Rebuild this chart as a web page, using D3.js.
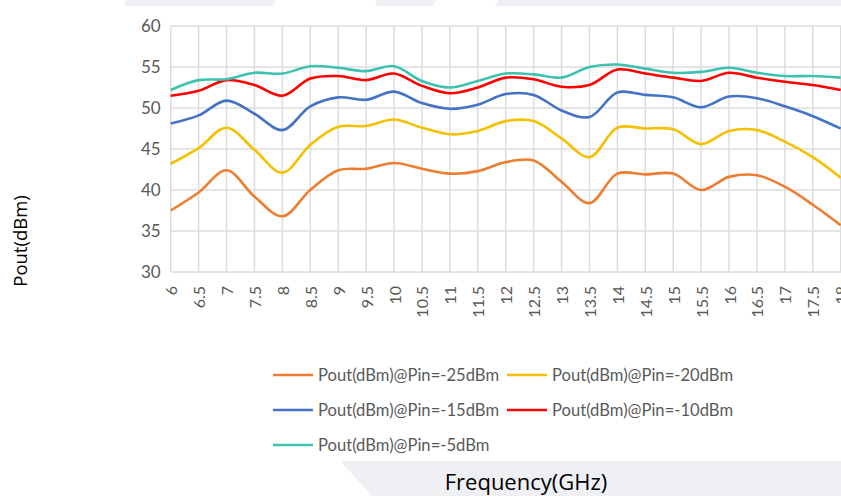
<!DOCTYPE html>
<html>
<head>
<meta charset="utf-8">
<script src="https://cdn.jsdelivr.net/npm/d3@7"></script>
<style>
  body { margin: 0; background: #fff; }
  svg { display: block; }
</style>
</head>
<body>
<div id="chart"></div>
<script>
// frequency categories (GHz)
const freqs = ["6", "6.5", "7", "7.5", "8", "8.5", "9", "9.5", "10", "10.5", "11", "11.5",
  "12", "12.5", "13", "13.5", "14", "14.5", "15", "15.5", "16", "16.5", "17", "17.5", "18"];

const pin25 = [37.5, 39.7, 42.4, 39.2, 36.8, 40.0, 42.4, 42.6, 43.3, 42.6, 42.0, 42.3,
  43.4, 43.6, 41.0, 38.4, 42.0, 41.9, 42.0, 40.0, 41.6, 41.8, 40.4, 38.2, 35.7];
const pin20 = [43.2, 45.1, 47.6, 44.9, 42.1, 45.5, 47.7, 47.8, 48.6, 47.6, 46.8, 47.2,
  48.4, 48.4, 46.3, 44.0, 47.6, 47.5, 47.4, 45.6, 47.2, 47.3, 45.9, 44.0, 41.5];
const pin15 = [48.1, 49.1, 50.9, 49.3, 47.3, 50.2, 51.3, 51.0, 52.0, 50.6, 49.9, 50.4,
  51.7, 51.6, 49.7, 48.9, 51.9, 51.6, 51.3, 50.1, 51.4, 51.2, 50.2, 49.0, 47.5];
const pin10 = [51.5, 52.1, 53.4, 52.8, 51.5, 53.6, 53.9, 53.4, 54.2, 52.7, 51.8, 52.5,
  53.7, 53.5, 52.6, 52.8, 54.7, 54.2, 53.7, 53.3, 54.3, 53.7, 53.2, 52.8, 52.2];
const pin5 = [52.2, 53.4, 53.5, 54.3, 54.2, 55.1, 54.9, 54.5, 55.1, 53.3, 52.5, 53.3,
  54.2, 54.1, 53.7, 55.0, 55.3, 54.8, 54.3, 54.4, 54.9, 54.3, 53.9, 53.9, 53.7];

const seriesNames = ["Pout(dBm)@Pin=-25dBm", "Pout(dBm)@Pin=-20dBm", "Pout(dBm)@Pin=-15dBm",
  "Pout(dBm)@Pin=-10dBm", "Pout(dBm)@Pin=-5dBm"];
const seriesColors = ["#ed7d31", "#f5c000", "#4472c4", "#ff0000", "#3cc2ae"];
const yTicks = [30, 35, 40, 45, 50, 55, 60];

const series = [pin25, pin20, pin15, pin10, pin5].map((vals, i) => ({
  name: seriesNames[i], color: seriesColors[i],
  values: vals.map((v, j) => ({ f: freqs[j], v: v }))
}));

var width = 841, height = 496;
var margin = { top: 26, left: 170.7, bottom: 272 };

var svg = d3.select("#chart").append("svg")
  .attr("width", width)
  .attr("height", height);

// faint background bands
const bg = "#eef0f4";
svg.append("polygon").attr("points", "125,0 276,0 272,6 125,6").attr("fill", bg);
svg.append("polygon").attr("points", "377,0 436,0 433,6 375,6").attr("fill", bg);
svg.append("polygon").attr("points", "498,0 841,0 841,6 495,6").attr("fill", bg);
svg.append("polygon").attr("points", "340,461 841,461 841,496 372,496").attr("fill", bg);

var x = d3.scalePoint()
  .domain(freqs)
  .range([margin.left, 840.7]);

var y = d3.scaleLinear()
  .domain([30, 60])
  .range([margin.bottom, margin.top]);

// grid
svg.append("g")
  .selectAll("line.h")
  .data(yTicks)
  .enter().append("line")
  .attr("x1", margin.left).attr("x2", width)
  .attr("y1", d => y(d)).attr("y2", d => y(d))
  .attr("stroke", "#dcdcdc").attr("stroke-width", 1.5);

svg.append("g")
  .selectAll("line.v")
  .data(freqs)
  .enter().append("line")
  .attr("x1", d => x(d)).attr("x2", d => x(d))
  .attr("y1", y(30)).attr("y2", y(60))
  .attr("stroke", "#dcdcdc").attr("stroke-width", 1.5);

// y axis labels
var yAxis = svg.append("g")
  .attr("transform", "translate(" + (margin.left - 10) + ",0)")
  .call(d3.axisLeft(y).tickValues(yTicks).tickSize(0).tickPadding(0));
yAxis.select(".domain").remove();
yAxis.selectAll("text")
  .attr("font-family", "Lato, 'Liberation Sans', sans-serif")
  .attr("font-size", 17)
  .attr("fill", "#595959");

// x axis labels (rotated)
var xAxis = svg.append("g")
  .attr("transform", "translate(0," + y(30) + ")")
  .call(d3.axisBottom(x).tickSize(0).tickPadding(0));
xAxis.select(".domain").remove();
xAxis.selectAll("text")
  .attr("font-family", "Lato, 'Liberation Sans', sans-serif")
  .attr("font-size", 16)
  .attr("fill", "#595959")
  .attr("text-anchor", "end")
  .attr("transform", "translate(6,14) rotate(-90)")
  .attr("dy", "0");

// lines
var line = d3.line()
  .x(d => x(d.f))
  .y(d => y(d.v))
  .curve(d3.curveCatmullRom);

svg.append("g")
  .selectAll("path")
  .data(series)
  .enter().append("path")
  .attr("fill", "none")
  .attr("stroke", d => d.color)
  .attr("stroke-width", 2.6)
  .attr("stroke-linejoin", "round")
  .attr("d", d => line(d.values));

// legend
var legendPos = [[273, 375], [507, 375], [273, 410], [507, 410], [273, 445]];
var legend = svg.append("g")
  .selectAll("g")
  .data(series)
  .enter().append("g")
  .attr("transform", (d, i) => "translate(" + legendPos[i][0] + "," + legendPos[i][1] + ")");
legend.append("line")
  .attr("x1", 0).attr("x2", 40)
  .attr("stroke", d => d.color)
  .attr("stroke-width", 2.6);
legend.append("text")
  .attr("x", 45)
  .attr("dy", "0.35em")
  .attr("font-family", "Lato, 'Liberation Sans', sans-serif")
  .attr("font-size", 16.6)
  .attr("fill", "#595959")
  .text(d => d.name);

// axis titles
svg.append("text")
  .attr("transform", "translate(27,241) rotate(-90)")
  .attr("text-anchor", "middle")
  .attr("font-family", "'Open Sans', sans-serif")
  .attr("font-size", 18.5)
  .attr("fill", "#000")
  .text("Pout(dBm)");

svg.append("text")
  .attr("x", 526)
  .attr("y", 490)
  .attr("text-anchor", "middle")
  .attr("font-family", "'Open Sans', sans-serif")
  .attr("font-size", 22)
  .attr("fill", "#000")
  .text("Frequency(GHz)");
</script>
</body>
</html>
